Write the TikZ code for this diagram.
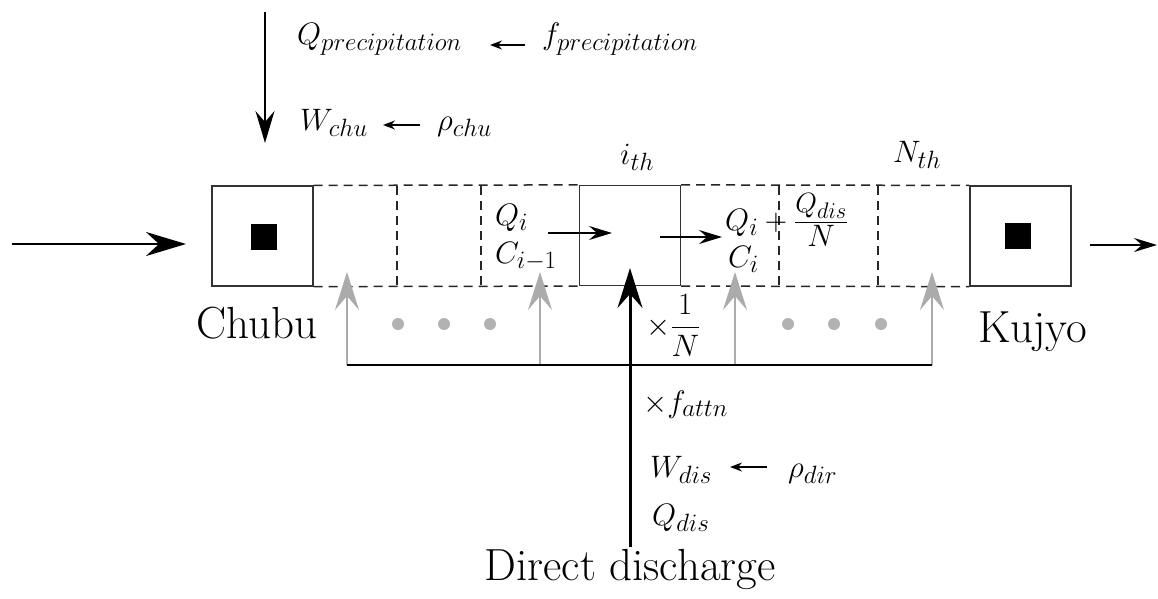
\RequirePackage{fix-cm}
\documentclass[tikz,border=0pt]{standalone}
\usepackage{graphicx}
\usetikzlibrary{arrows.meta}
\DeclareMathSizes{31}{31}{25}{20}
\newcommand{\mfont}{\fontsize{31}{37}\selectfont}
\newcommand{\bfontsz}{\fontsize{45}{52}\selectfont}
\tikzset{
  box/.style={draw=black!80, line width=1.2pt, minimum width=101pt, minimum height=100pt, inner sep=0pt},
  inner/.style={fill=black, minimum size=26pt, inner sep=0pt},
  dline/.style={draw=black!85, line width=1.5pt, dash pattern=on 9pt off 6pt},
  mlabel/.style={anchor=base west, inner sep=0pt, font=\mfont},
  blabel/.style={inner sep=0pt, font=\bfontsz},
  grayarrow/.style={draw=black!33, line width=2pt, -{Stealth[length=38pt,width=24pt,inset=14pt]}},
  mainarrow/.style={draw=black, line width=3pt, -{Stealth[length=40pt,width=25pt,inset=14pt]}},
  inarrow/.style={draw=black, line width=2.5pt, -{Stealth[length=40pt,width=24pt,inset=13pt]}},
  toparrow/.style={draw=black, line width=2.2pt, -{Stealth[length=32pt,width=19pt,inset=11pt]}},
  outarrow/.style={draw=black, line width=2pt, -{Stealth[length=23pt,width=14pt,inset=8pt]}},
  midarrow/.style={draw=black, line width=1.8pt, -{Stealth[length=23pt,width=14pt,inset=8pt]}},
  smallarrow/.style={draw=black, line width=1.8pt, -{Stealth[length=12pt,width=9pt,inset=4pt]}},
  dotg/.style={fill=black!30},
}
\begin{document}
\begin{tikzpicture}[x=1pt,y=-1pt]
\useasboundingbox[fill=white] (0,0) rectangle (1158,599);

% boxes
\node[box] (chubu) at (262.5,236) {};
\node[inner] (chubuin) at (264,236.5) {};
\node[box] (ibox) at (630,235.5) {};
\node[box] (kujyo) at (1020.5,236) {};
\node[inner] (kujyoin) at (1018,236) {};

% dashed cells
\draw[dline] (chubu.north east) -- (ibox.north west);
\draw[dline] (chubu.south east) -- (ibox.south west);
\draw[dline] (ibox.north east) -- (kujyo.north west);
\draw[dline] (ibox.south east) -- (kujyo.south west);
\draw[dline] (397,186) -- (397,286);
\draw[dline] (481,186) -- (481,286);
\draw[dline] (779,186) -- (779,286);
\draw[dline] (878,186) -- (878,286);

% in / out arrows
\coordinate (inS) at (12,244);
\coordinate (inE) at (186,244);
\draw[inarrow] (inS) -- (inE);
\coordinate (outS) at (1090,245);
\coordinate (outE) at (1157,245);
\draw[outarrow] (outS) -- (outE);

% precipitation arrow
\coordinate (pS) at (265,12);
\coordinate (pE) at (265,143);
\draw[toparrow] (pS) -- (pE);

% gray arrows and collector line
\coordinate (g1b) at (347,365); \coordinate (g1t) at (347,272);
\coordinate (g2b) at (540,365); \coordinate (g2t) at (540,272);
\coordinate (g3b) at (735,365); \coordinate (g3t) at (735,272);
\coordinate (g4b) at (932,365); \coordinate (g4t) at (932,272);
\draw[grayarrow] (g1b) -- (g1t);
\draw[grayarrow] (g2b) -- (g2t);
\draw[grayarrow] (g3b) -- (g3t);
\draw[grayarrow] (g4b) -- (g4t);
\draw[black, line width=2.5pt] (g1b) -- (g4b);

% dots
\foreach \x in {398,444,490,788,834,881} \fill[dotg] (\x,324) circle (6pt);

% main discharge arrow
\coordinate (dS) at (630,547);
\coordinate (dE) at (630,268);
\draw[mainarrow] (dS) -- (dE);

% inner flow arrows
\coordinate (a1S) at (548,233); \coordinate (a1E) at (612,233);
\draw[midarrow] (a1S) -- (a1E);
\coordinate (a2S) at (660,237); \coordinate (a2E) at (722,237);
\draw[midarrow] (a2S) -- (a2E);

% small arrows
\coordinate (s1S) at (525,45); \coordinate (s1E) at (490,45);
\draw[smallarrow] (s1S) -- (s1E);
\coordinate (s2S) at (420,125); \coordinate (s2E) at (383,125);
\draw[smallarrow] (s2S) -- (s2E);
\coordinate (s3S) at (767,467); \coordinate (s3E) at (730,467);
\draw[smallarrow] (s3S) -- (s3E);

% labels
\node[mlabel] (qp) at (297,45) {$Q_{precipitation}$};
\node[mlabel] (fp) at (542,45) {$f_{precipitation}$};
\node[mlabel] (wc) at (300,130) {$W_{chu}$};
\node[mlabel] (rc) at (437,130) {$\rho_{chu}$};
\node[mlabel] (ith) at (620,164) {$i_{th}$};
\node[mlabel] (nth) at (893,162) {$N_{th}$};
\node[mlabel] (qi) at (495,225) {$Q_i$};
\node[mlabel] (ci1) at (495,263) {$C_{i-1}$};
\node[mlabel] (qsum) at (725,230) {$Q_i+\frac{\scalebox{0.9}{$\textstyle Q_{dis}$}\rule[-9pt]{0pt}{1pt}}{\textstyle N\rule{0pt}{24pt}}$};
\node[mlabel] (ci) at (728,267) {$C_i$};
\node[mlabel] (invn) at (646,335) {$\times{\displaystyle\frac{1}{N}}$};
\node[mlabel] (fatt) at (643,412) {$\times f_{attn}$};
\node[mlabel] (wd) at (650,477) {$W_{dis}$};
\node[mlabel] (rd) at (788,477) {$\rho_{dir}$};
\node[mlabel] (qd) at (652,525) {$Q_{dis}$};
\node[blabel, anchor=base west] (chubul) at (196,338) {Chubu};
\node[blabel, anchor=base west] (kujyol) at (978,342) {Kujyo};
\node[blabel, anchor=base] (ddl) at (630,580) {Direct discharge};
\end{tikzpicture}
\end{document}
